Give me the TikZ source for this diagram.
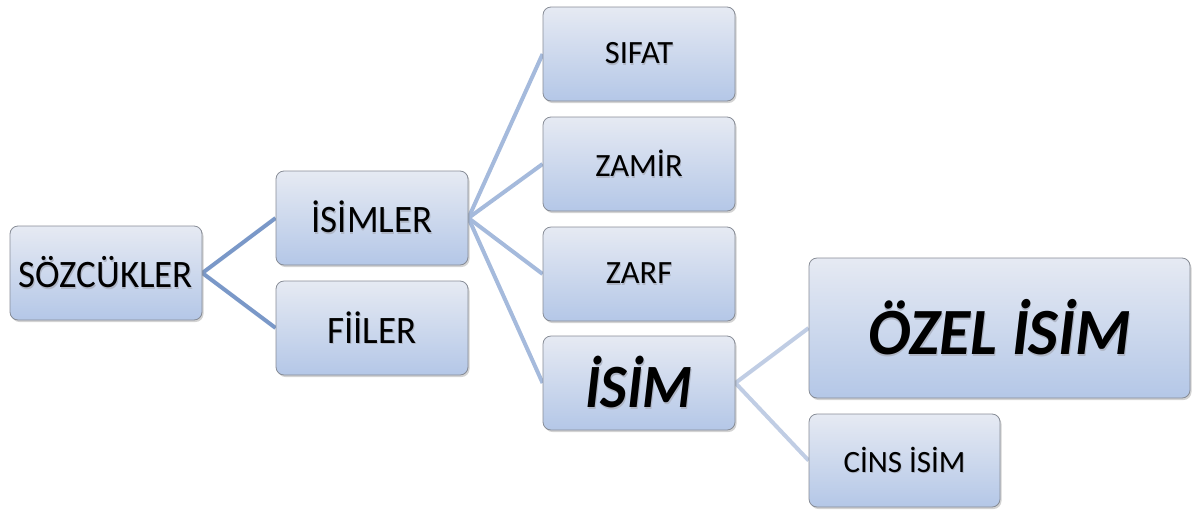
\documentclass[tikz,border=0pt]{standalone}
\usepackage{fontspec}
\setmainfont{Carlito}
\usetikzlibrary{shadows,backgrounds}
\definecolor{boxtop}{RGB}{230,234,243}
\definecolor{boxbot}{RGB}{180,199,231}
\definecolor{boxline}{RGB}{135,140,150}
\definecolor{linkA}{RGB}{122,152,200}
\definecolor{linkB}{RGB}{165,186,220}
\definecolor{linkC}{RGB}{192,205,228}
\definecolor{txtshadow}{RGB}{175,182,198}
\newcommand{\vst}[2]{\scalebox{1}[#1]{\makebox[0pt][l]{\hspace{0.8pt}\raisebox{-1.6pt}{\textcolor{txtshadow}{#2}}}#2}}
\tikzset{
  box/.style={draw=boxline, line width=0.8pt, rounded corners=8pt,
    top color=boxtop, bottom color=boxbot, minimum width=192pt, minimum height=94pt,
    inner sep=0pt, text=black,
    drop shadow={shadow xshift=1.5pt, shadow yshift=-2pt, opacity=0.35}},
  linkone/.style={draw=linkA, line width=4pt},
  linktwo/.style={draw=linkB, line width=4pt},
  linkthree/.style={draw=linkC, line width=4pt},
}
\begin{document}
\begin{tikzpicture}[x=1pt,y=-1pt]
\useasboundingbox (0,0) rectangle (1199,512);
\node[box] (sozcukler) at (106,273) {\fontsize{37}{40}\selectfont\vst{1.05}{SÖZCÜKLER}};
\node[box] (isimler) at (372,218) {\fontsize{37}{40}\selectfont\vst{1.05}{İSİMLER}};
\node[box] (fiiler) at (372,328) {\fontsize{37}{40}\selectfont\vst{1.05}{FİİLER}};
\node[box] (sifat) at (639,54) {\fontsize{32.5}{36}\selectfont\vst{1.0}{SIFAT}};
\node[box] (zamir) at (639,164) {\fontsize{32.5}{36}\selectfont\vst{1.0}{ZAMİR}};
\node[box] (zarf) at (639,274) {\fontsize{32.5}{36}\selectfont\vst{1.0}{ZARF}};
\node[box] (isim) at (639,383) {\fontsize{57}{60}\selectfont\bfseries\itshape\vst{1.08}{İSİM}};
\node[box, minimum width=381pt, minimum height=140pt] (ozel) at (999.5,328) {\fontsize{63.5}{66}\selectfont\bfseries\itshape\vst{1.04}{ÖZEL İSİM}};
\node[box, minimum width=191pt, minimum height=93pt] (cins) at (904.5,460.5) {\fontsize{31}{34}\selectfont\vst{1.0}{CİNS İSİM}};
\begin{scope}[on background layer]
\draw[linkone] (sozcukler.east) -- (isimler.west);
\draw[linkone] (sozcukler.east) -- (fiiler.west);
\draw[linktwo] (isimler.east) -- (sifat.west);
\draw[linktwo] (isimler.east) -- (zamir.west);
\draw[linktwo] (isimler.east) -- (zarf.west);
\draw[linktwo] (isimler.east) -- (isim.west);
\draw[linkthree] (isim.east) -- (ozel.west);
\draw[linkthree] (isim.east) -- (cins.west);
\end{scope}
\end{tikzpicture}
\end{document}
